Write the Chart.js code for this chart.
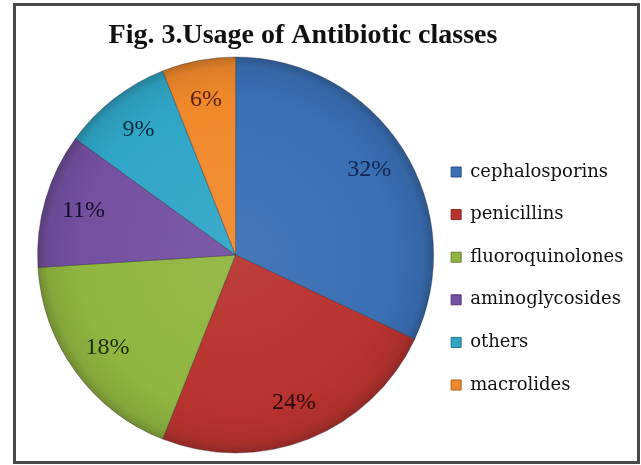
<!DOCTYPE html>
<html lang="en">
<head>
  <meta charset="UTF-8">
  <title>Usage of Antibiotic classes</title>
  <script src="https://cdn.jsdelivr.net/npm/chart.js"></script>
  <style>
    html, body { margin: 0; padding: 0; background: #fff; overflow: hidden; }
    .wrap { position: relative; width: 641px; height: 465px; }
    .frame { position: absolute; left: 13px; top: 3px; width: 627px; height: 461px; box-sizing: border-box; border: 3px solid #4a4a4a; pointer-events: none; }
  </style>
</head>
<body>
  <div class="wrap">
    <canvas id="pieChart"></canvas>
    <div class="frame"></div>
  </div>
<script>
// data
const chartTitle = "Fig. 3.Usage of Antibiotic classes";
const classes = ["cephalosporins", "penicillins", "fluoroquinolones", "aminoglycosides", "others", "macrolides"];
const usagePct = [32, 24, 18, 11, 9, 6];

const sliceColors = ["#3a6fb4", "#b8332f", "#90b540", "#7350a0", "#30a6c7", "#f0892b"];
const labelColors = ["#13244d", "#2a0b0b", "#1d2a08", "#140c26", "#0b2c3c", "#5a2205"];

const PIE_R = 198;
const LEG_FONT = { family: "'DejaVu Serif', serif", size: 18 };
const LEG_PAD = 24.6;
const LEG_LEFT = 426.4;   // legend box left edge = plot area right edge

// lighten / darken a hex colour
function shade(hex, amt) {
  const n = parseInt(hex.slice(1), 16);
  let r = n >> 16, g = (n >> 8) & 255, b = n & 255;
  const f = c => Math.max(0, Math.min(255, Math.round(amt > 0 ? c + (255 - c) * amt : c * (1 + amt))));
  return `rgb(${f(r)},${f(g)},${f(b)})`;
}

// legend width as chart.js will compute it, so the right padding puts the legend where we want it
function legendWidth() {
  const c = document.createElement("canvas").getContext("2d");
  c.font = `${LEG_FONT.size}px ${LEG_FONT.family}`;
  const w = Math.max(...classes.map(t => c.measureText(t).width));
  return LEG_PAD + 10 + LEG_FONT.size / 2 + w + 10;
}
const rightPad = Math.max(0, 641 - LEG_LEFT - Math.ceil(legendWidth()));

// slice fill with a light centre and darker rim, roughly like the 3D office style
function sliceFill(ctx) {
  const base = sliceColors[ctx.dataIndex];
  const area = ctx.chart.chartArea;
  if (!area) return base;
  const cx = (area.left + area.right) / 2, cy = (area.top + area.bottom) / 2;
  const g = ctx.chart.ctx.createRadialGradient(cx, cy, 0, cx, cy, PIE_R);
  g.addColorStop(0, shade(base, 0.06));
  g.addColorStop(0.8, base);
  g.addColorStop(0.95, shade(base, -0.08));
  g.addColorStop(1, shade(base, -0.22));
  return g;
}

// title drawn over the whole frame, not just the plot area
const titlePlugin = {
  id: "figTitle",
  afterDraw(chart) {
    const c = chart.ctx;
    c.save();
    c.font = "bold 28px 'Liberation Serif', serif";
    c.fillStyle = "#111";
    c.textAlign = "center";
    c.textBaseline = "alphabetic";
    c.fillText(chartTitle, 303, 43);
    c.restore();
  }
};

// percentage labels inside the slices
const pctLabels = {
  id: "pctLabels",
  afterDatasetsDraw(chart) {
    const c = chart.ctx;
    const meta = chart.getDatasetMeta(0);
    c.save();
    c.font = "24px 'Liberation Serif', serif";
    c.textAlign = "center";
    c.textBaseline = "middle";
    meta.data.forEach((arc, i) => {
      const p = arc.getProps(["x", "y", "startAngle", "endAngle", "outerRadius"], true);
      const mid = (p.startAngle + p.endAngle) / 2;
      const r = p.outerRadius * 0.8;
      c.fillStyle = labelColors[i];
      c.fillText(usagePct[i] + "%", p.x + Math.cos(mid) * r, p.y + Math.sin(mid) * r);
    });
    c.restore();
  }
};

new Chart(document.getElementById("pieChart"), {
  type: "pie",
  data: {
    labels: classes,
    datasets: [{
      data: usagePct,
      backgroundColor: sliceFill,
      borderColor: "rgba(30,30,40,0.35)",
      borderWidth: 1,
      radius: PIE_R
    }]
  },
  options: {
    responsive: true,
    maintainAspectRatio: false,
    animation: false,
    layout: { padding: { left: 44.6, right: rightPad, top: 50, bottom: 5 } },
    plugins: {
      tooltip: { enabled: false },
      title: { display: false },
      legend: {
        position: "right",
        align: "start",
        title: { display: true, text: " ", font: { size: 12 }, padding: { top: 74, bottom: 0 } },
        labels: {
          font: LEG_FONT,
          color: "#111",
          boxWidth: 10,
          boxHeight: 10,
          padding: LEG_PAD,
          generateLabels: chart => chart.data.labels.map((t, i) => ({
            text: t,
            fillStyle: sliceColors[i],
            strokeStyle: shade(sliceColors[i], -0.3),
            fontColor: "#111",
            lineWidth: 1,
            hidden: false,
            index: i
          }))
        }
      }
    }
  },
  plugins: [titlePlugin, pctLabels]
});
</script>
</body>
</html>
